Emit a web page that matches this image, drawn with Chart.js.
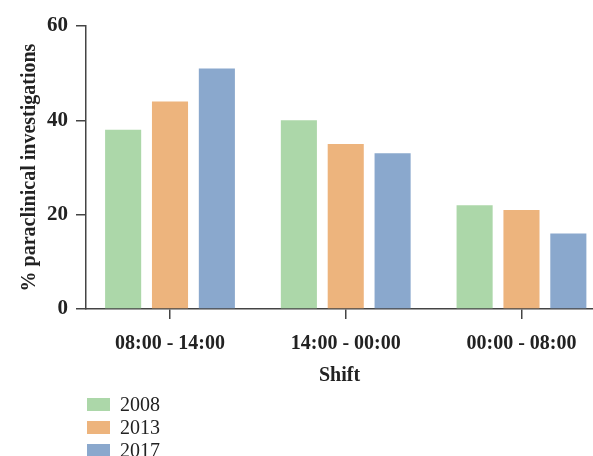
<!DOCTYPE html>
<html>
<head>
<meta charset="utf-8">
<script src="https://cdn.jsdelivr.net/npm/chart.js@4"></script>
<style>
  body { margin: 0; background: #fff; }
  #wrap { position: relative; width: 593px; height: 456px; }
  #legend { position: absolute; left: 87px; top: 393px; font-family: "Liberation Serif", serif; font-size: 20px; color: #222; }
  #legend div { height: 23px; display: flex; align-items: center; }
  #legend span.box { display: inline-block; width: 23px; height: 13px; margin-right: 10px; }
</style>
</head>
<body>
<div id="wrap">
  <canvas id="chart" width="593" height="456"></canvas>
  <div id="legend"></div>
</div>
<script>
// shifts on the x axis
const shifts = ['08:00 - 14:00', '14:00 - 00:00', '00:00 - 08:00'];
const years = ['2008', '2013', '2017'];
// % paraclinical investigations per shift
const pct2008 = [38, 40, 22];
const pct2013 = [44, 35, 21];
const pct2017 = [51, 33, 16];
const yTicks = [0, 20, 40, 60];

const colors = ['#acd7a9', '#edb47d', '#8aa8cd'];
const seriesVals = [pct2008, pct2013, pct2017];

const ink = '#222';
const font = 'Liberation Serif';

// build datasets; x is the shift index on a linear axis
const datasets = years.map((y, i) => ({
  label: y,
  data: seriesVals[i].map((v, j) => ({ x: j, y: v })),
  backgroundColor: colors[i],
  borderWidth: 0,
  categoryPercentage: 0.8,
  barPercentage: 0.77,
}));

const ctx = document.getElementById('chart').getContext('2d');
new Chart(ctx, {
  type: 'bar',
  data: { datasets },
  options: {
    responsive: false,
    animation: false,
    layout: { padding: { top: 26, left: 0, right: 0, bottom: 0 } },
    plugins: { legend: { display: false }, tooltip: { enabled: false } },
    scales: {
      x: {
        type: 'linear',
        min: -0.478,
        max: 2.407,
        offset: false,
        afterFit: s => { s.height = 147; },
        grid: { offset: false, drawOnChartArea: false, drawTicks: true, tickLength: 10, color: '#444', lineWidth: 1.5 },
        border: { color: '#444', width: 1.5 },
        ticks: {
          stepSize: 1,
          includeBounds: false,
          color: ink,
          padding: 13,
          font: { family: font, size: 20, weight: 'bold' },
          callback: v => shifts[v],
        },
        title: { display: true, text: 'Shift', color: ink, font: { family: font, size: 20, weight: 'bold' }, padding: { top: 0, bottom: 68 } },
      },
      y: {
        min: 0,
        max: 60,
        afterFit: s => { s.width = 86; },
        afterBuildTicks: s => { s.ticks = yTicks.map(v => ({ value: v })); },
        grid: { drawOnChartArea: false, drawTicks: true, tickLength: 10, color: '#444', lineWidth: 1.5 },
        border: { color: '#444', width: 1.5 },
        ticks: { color: ink, padding: 8, font: { family: font, size: 21, weight: 'bold' } },
        title: { display: true, text: '% paraclinical investigations', color: ink, font: { family: font, size: 20, weight: 'bold' }, padding: { top: 18, bottom: 0 } },
      },
    },
  },
});

// legend list below the chart
const legend = document.getElementById('legend');
years.forEach((y, i) => {
  const row = document.createElement('div');
  row.innerHTML = '<span class="box" style="background:' + colors[i] + '"></span>' + y;
  legend.appendChild(row);
});
</script>
</body>
</html>
